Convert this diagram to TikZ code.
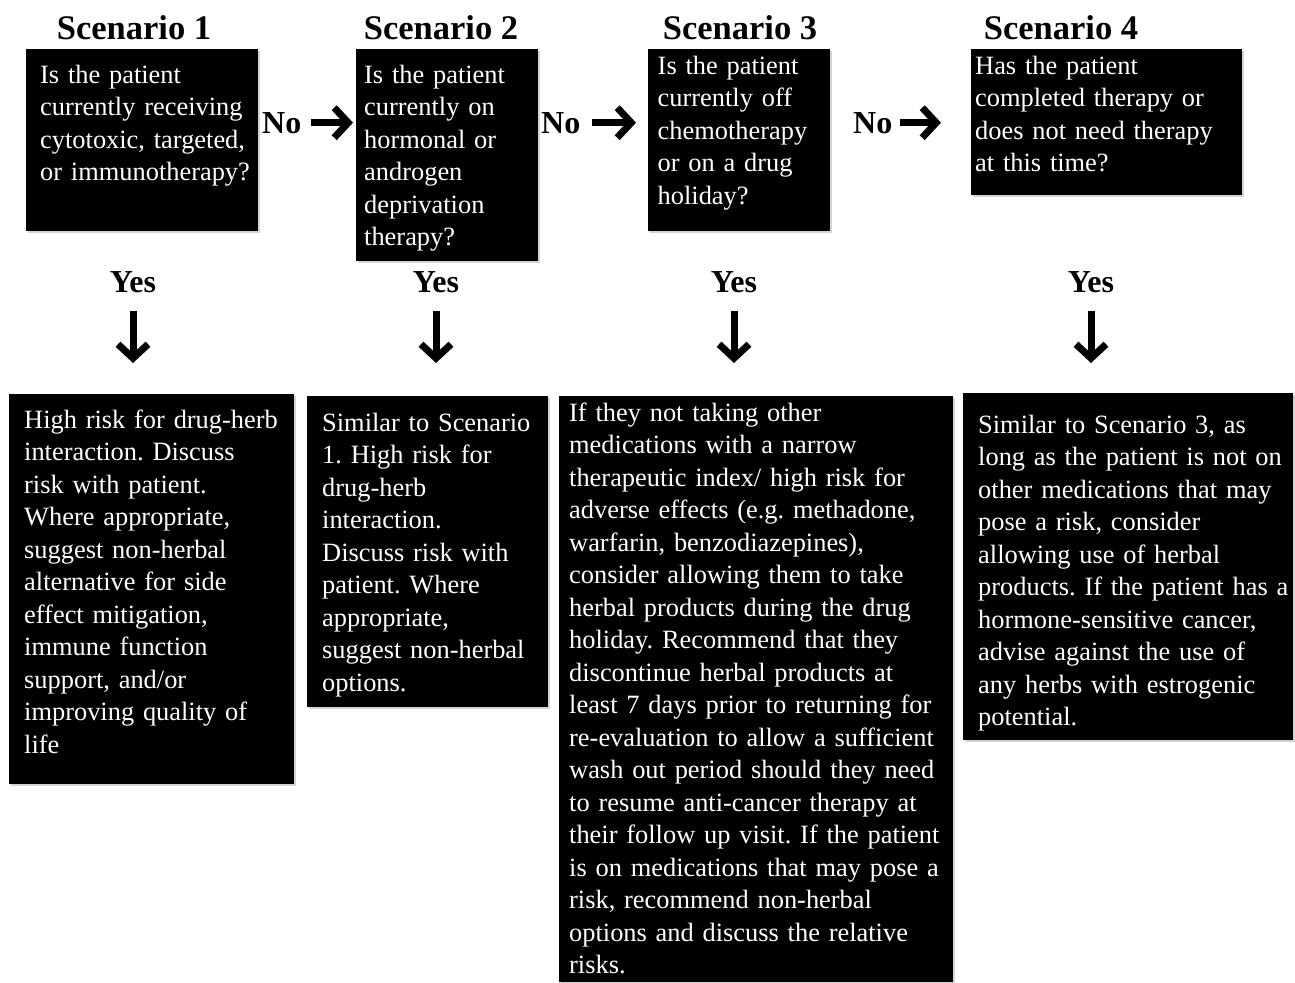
\documentclass[tikz,border=0pt]{standalone}
\usepackage{fontspec}
\setmainfont{Liberation Serif}
\usetikzlibrary{arrows.meta,shadows}

\begin{document}
\begin{tikzpicture}[x=1pt, y=-1pt,
      qbox/.style n args={4}{fill=black, text=white, anchor=north west,
        inner sep=0pt, align=left, text width=#1pt, text height=#2pt,
        text depth=#3pt, font=\fontsize{26.4}{32.5}\selectfont,
        execute at begin node={\frenchspacing\leftskip=#4pt\relax},
        drop shadow={shadow xshift=1.5pt, shadow yshift=-1.5pt, opacity=0.35}},
      head/.style={font=\fontsize{34.5}{40}\selectfont\bfseries, anchor=base, inner sep=0pt},
      lbl/.style={font=\fontsize{32}{38}\selectfont\bfseries, inner sep=2pt},
      arr/.style={line width=7pt, -{Straight Barb[length=14pt, width=30pt]}}]
  \useasboundingbox (0,0) rectangle (1295,982);

  % scenario headings
  \node[head] (s1) at (134,40) {Scenario 1};
  \node[head] (s2) at (441,40) {Scenario 2};
  \node[head] (s3) at (740,40) {Scenario 3};
  \node[head] (s4) at (1061,40) {Scenario 4};

  % questions
  \node[qbox={232}{34}{148}{14}] (q1) at (26,49)
    {Is the patient\\ currently receiving\\ cytotoxic, targeted,\\ or immunotherapy?};
  \node[qbox={182}{34}{178}{8}] (q2) at (356,49)
    {Is the patient\\ currently on\\ hormonal or\\ androgen\\ deprivation\\ therapy?};
  \node[qbox={182}{25}{157}{9.5}] (q3) at (648,49)
    {Is the patient\\ currently off\\ chemotherapy\\ or on a drug\\ holiday?};
  \node[qbox={271}{25}{121}{4}] (q4) at (971,49)
    {Has the patient\\ completed therapy or\\ does not need therapy\\ at this time?};

  % answers
  \node[qbox={285}{34}{356}{15}] (a1) at (9,394)
    {High risk for drug-herb\\ interaction. Discuss\\ risk with patient.\\ Where appropriate,\\
     suggest non-herbal\\ alternative for side\\ effect mitigation,\\ immune function\\
     support, and/or\\ improving quality of\\ life};
  \node[qbox={241}{35}{276}{15}] (a2) at (307,396)
    {Similar to Scenario\\ 1. High risk for\\ drug-herb\\ interaction.\\ Discuss risk with\\
     patient. Where\\ appropriate,\\ suggest non-herbal\\ options.};
  \node[qbox={394}{25}{561}{10}] (a3) at (559,396)
    {If they not taking other\\ medications with a narrow\\ therapeutic index/ high risk for\\
     adverse effects (e.g. methadone,\\ warfarin, benzodiazepines),\\
     consider allowing them to take\\ herbal products during the drug\\
     holiday. Recommend that they\\ discontinue herbal products at\\
     least 7 days prior to returning for\\ re-evaluation to allow a sufficient\\
     wash out period should they need\\ to resume anti-cancer therapy at\\
     their follow up visit. If the patient\\ is on medications that may pose a\\
     risk, recommend non-herbal\\ options and discuss the relative\\ risks.};
  \node[qbox={330}{40}{307}{15}] (a4) at (963,393)
    {Similar to Scenario 3, as\\ long as the patient is not on\\ other medications that may\\
     pose a risk, consider\\ allowing use of herbal\\ products. If the patient has a\\
     hormone-sensitive cancer,\\ advise against the use of\\ any herbs with estrogenic\\
     potential.};

  % no / yes labels
  \node[lbl, anchor=base west] (no1) at (260,133) {No};
  \node[lbl, anchor=base west] (no2) at (539,133) {No};
  \node[lbl, anchor=base west] (no3) at (851,133) {No};
  \node[lbl, anchor=base] (yes1) at (133,292) {Yes};
  \node[lbl, anchor=base] (yes2) at (436,292) {Yes};
  \node[lbl, anchor=base] (yes3) at (734,292) {Yes};
  \node[lbl, anchor=base] (yes4) at (1091,292) {Yes};

  \draw[arr, shorten <=7pt, shorten >=3pt] (no1.east) -- (no1.east -| q2.west);
  \draw[arr, shorten <=9pt, shorten >=12pt] (no2.east) -- (no2.east -| q3.west);
  \draw[arr, shorten <=5pt, shorten >=30pt] (no3.east) -- (no3.east -| q4.west);

  \draw[arr, shorten <=16pt, shorten >=31pt] (yes1.south) -- (yes1.south |- a1.north);
  \draw[arr, shorten <=16pt, shorten >=33pt] (yes2.south) -- (yes2.south |- a2.north);
  \draw[arr, shorten <=16pt, shorten >=33pt] (yes3.south) -- (yes3.south |- a3.north);
  \draw[arr, shorten <=16pt, shorten >=30pt] (yes4.south) -- (yes4.south |- a4.north);
\end{tikzpicture}
\end{document}
